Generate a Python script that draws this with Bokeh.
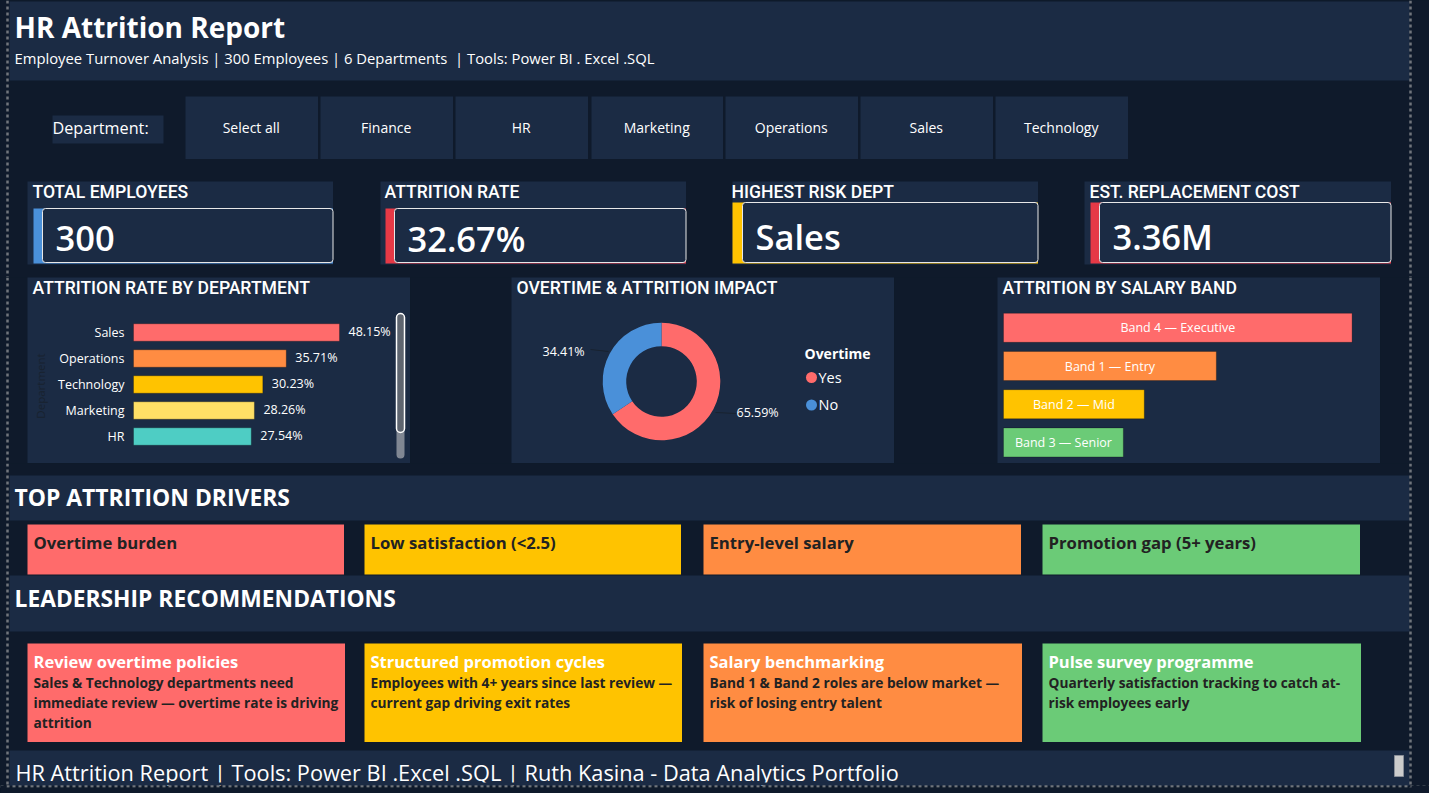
import math
from bokeh.plotting import figure
from bokeh.layouts import column, row
from bokeh.models import Range1d, BoxAnnotation, Label, ColumnDataSource, Span, FixedTicker
from bokeh.core.properties import value
from bokeh.core.validation import silence
from bokeh.core.validation.warnings import MISSING_RENDERERS
from bokeh.embed import file_html
from bokeh.resources import INLINE

silence(MISSING_RENDERERS, True)

# ---- data ----
departments = ["Sales", "Operations", "Technology", "Marketing", "HR"]
dept_rates = [48.15, 35.71, 30.23, 28.26, 27.54]
dept_colors = ["#FF6B6B", "#FF8C42", "#FFC300", "#FFE066", "#4ECDC4"]

salary_bands = ["Band 4 — Executive", "Band 1 — Entry", "Band 2 — Mid", "Band 3 — Senior"]
salary_values = [41.6, 25.4, 16.8, 14.3]
salary_colors = ["#FF6B6B", "#FF8C42", "#FFC300", "#6BCB77"]

overtime_labels = ["Yes", "No"]
overtime_values = [65.59, 34.41]
overtime_colors = ["#FF6B6B", "#4A90D9"]

slicer_items = ["Select all", "Finance", "HR", "Marketing", "Operations", "Sales", "Technology"]
kpi_titles = ["TOTAL EMPLOYEES", "ATTRITION RATE", "HIGHEST RISK DEPT", "EST. REPLACEMENT COST"]
kpi_values = ["300", "32.67%", "Sales", "3.36M"]
kpi_colors = ["#4A90D9", "#E63946", "#FFC300", "#E63946"]

drivers = ["Overtime burden", "Low satisfaction (<2.5)", "Entry-level salary", "Promotion gap (5+ years)"]
card_colors = ["#FF6B6B", "#FFC300", "#FF8C42", "#6BCB77"]
rec_titles = ["Review overtime policies", "Structured promotion cycles", "Salary benchmarking", "Pulse survey programme"]
rec_bodies = [
    ["Sales & Technology departments need", "immediate review — overtime rate is driving", "attrition"],
    ["Employees with 4+ years since last review —", "current gap driving exit rates"],
    ["Band 1 & Band 2 roles are below market —", "risk of losing entry talent"],
    ["Quarterly satisfaction tracking to catch at-", "risk employees early"],
]
report_title = "HR Attrition Report"
report_sub = "Employee Turnover Analysis | 300 Employees | 6 Departments \u00a0| Tools: Power BI . Excel .SQL"
footer_text = "HR Attrition Report | Tools: Power BI .Excel .SQL | Ruth Kasina - Data Analytics Portfolio"

# ---- style ----
BG = "#0F1A2B"
PANEL = "#1B2B44"
WHITE = "#FFFFFF"
DARK = "#222222"
DOT = "#70757C"
HEAD = "'Roboto Medium', Roboto"
BODY = "Open Sans"
VALUE = "'Open Sans SemiBold', 'Open Sans'"


def base(w, h, x_range, y_range, fill=BG):
    p = figure(width=w, height=h, x_range=x_range, y_range=y_range, output_backend="svg",
               toolbar_location=None, min_border=0, background_fill_color=fill,
               border_fill_color=fill, outline_line_color=None)
    p.grid.visible = False
    p.xaxis.visible = False
    p.yaxis.visible = False
    return p


def canvas(w, h):
    return base(w, h, Range1d(0, w), Range1d(h, 0))


def box(p, l, t, r, b, fill=PANEL, line=None, radius=0, width=1, dy=0):
    ann = BoxAnnotation(left=l, right=r, top=t - dy, bottom=b - dy,
                        left_units="canvas", right_units="canvas", top_units="canvas",
                        bottom_units="canvas", fill_color=fill, fill_alpha=1 if fill else 0,
                        line_color=line, line_alpha=1 if line else 0, line_width=width,
                        border_radius=radius, level="annotation", editable=False)
    p.add_layout(ann)


def label(p, x, y, text, size, color=WHITE, font=BODY, style="normal", align="left", dy=0, angle=0):
    p.add_layout(Label(x=x - 1, y=y - dy - 1, x_units="canvas", y_units="canvas", text=text,
                       text_font=font, text_font_size=f"{size}px", text_font_style=style,
                       text_color=color, text_align=align, text_baseline="middle", angle=angle))


def dots(p, loc, dim="height"):
    p.add_layout(Span(location=loc, dimension=dim, location_units="canvas",
                      line_color=DOT, line_width=2.5, line_dash=[3, 3]))


# ---- top block: y 0..277 ----
top = canvas(1429, 277)
box(top, 9, 1, 1409, 80)
label(top, 15, 27, report_title, 28, style="bold")
label(top, 15, 58, report_sub, 14.8)
box(top, 52, 115, 163, 143)
label(top, 53, 128, "Department:", 16.2)
slicer_edges = [(185, 317.5), (320, 452.5), (455, 587.5), (591, 722.5), (725, 857.5), (860, 992.5), (995, 1127.5)]
for (l, r), name in zip(slicer_edges, slicer_items):
    box(top, l, 96, r, 158.5)
    label(top, (l + r) / 2 + 0.5, 128, name, 14, align="center")
card_geo = [(27, 33, 42, 332.5, 208, 239), (380, 385, 394, 685.5, 208, 239),
            (732, 732, 742, 1037.5, 202, 237), (1084, 1090, 1099, 1390.5, 202, 237)]
for (pl, sl, il, pr, it, vy), title, val, col in zip(card_geo, kpi_titles, kpi_values, kpi_colors):
    box(top, pl, 181, pr, 264)
    label(top, sl, 192, title, 17.6, font=HEAD)
    box(top, sl, it, pr, 263, fill=col)
    box(top, il, it, pr, 262, fill=PANEL, line="#E8E8E8", radius=3)
    label(top, il + 14, vy, val, 34.5, font=VALUE)
dots(top, 7)
dots(top, 1410)

# ---- middle row: y 277..463 ----
MID = 186
spacer_a = canvas(27, MID)
dots(spacer_a, 7)

rows_d = list(range(len(departments)))
dept_src = ColumnDataSource(dict(pos=rows_d, rate=dept_rates, color=dept_colors,
                                 text=[f"{v:.2f}%" for v in dept_rates]))
dept = base(383, MID, Range1d(-24.78, 64.75), Range1d(5.038, -2.115), fill=PANEL)
dept.yaxis.visible = True
dept.yaxis.fixed_location = 0
dept.yaxis.ticker = FixedTicker(ticks=rows_d)
dept.yaxis.major_label_overrides = dict(zip(rows_d, departments))
dept.yaxis.axis_line_color = None
dept.yaxis.major_tick_line_color = None
dept.yaxis.minor_tick_line_color = None
dept.yaxis.major_label_text_color = WHITE
dept.yaxis.major_label_text_font = BODY
dept.yaxis.major_label_text_font_size = "12.5px"
dept.yaxis.major_label_standoff = 3
dept.hbar(y="pos", left=0, right="rate", height=0.67, fill_color="color",
          line_color="#000000", line_alpha=0.25, source=dept_src)
dept.text(x="rate", y="pos", text="text", x_offset=9, y_offset=-1, text_color=WHITE, text_font=value(BODY),
          text_font_size="12.5px", text_baseline="middle", source=dept_src)
label(dept, 6, 11, "ATTRITION RATE BY DEPARTMENT", 17.6, font=HEAD)
label(dept, 13.5, 109.5, "Department", 11.5, color="#18222F", align="center", angle=math.pi / 2)
box(dept, 369, 150, 377, 181, fill="#808793", radius=4)
box(dept, 369, 36, 377, 155, fill="#5E6570", line=WHITE, radius=4, width=1.5)

spacer_b = canvas(101, MID)

donut = base(383, MID, Range1d(-150, 233), Range1d(-82, 104), fill=PANEL)
total = sum(overtime_values)
angle = math.pi / 2
starts, ends = [], []
for v in overtime_values:
    starts.append(angle)
    angle -= 2 * math.pi * v / total
    ends.append(angle)
donut.annular_wedge(x=0, y=0, inner_radius=35.3, outer_radius=58.8, start_angle=starts, end_angle=ends,
                    direction="clock", fill_color=overtime_colors, line_color=None)
donut.segment(x0=[54, -53], y0=[-31, 30], x1=[75, -71], y1=[-32, 32], line_color="#18222F", line_width=1)
label(donut, 6, 11, "OVERTIME & ATTRITION IMPACT", 17.6, font=HEAD)
label(donut, 226, 136, f"{overtime_values[0]:.2f}%", 12.5)
label(donut, 32, 75, f"{overtime_values[1]:.2f}%", 12.5)
label(donut, 294, 77, "Overtime", 14, style="bold")
for i, (name, col) in enumerate(zip(overtime_labels, overtime_colors)):
    donut.circle(x=[150], y=[4 - 27.5 * i], radius=5.5, fill_color=col, line_color=None)
    label(donut, 308, 101 + 27 * i, name, 14.5)

spacer_c = canvas(103, MID)

rows_b = list(range(len(salary_bands)))
band_src = ColumnDataSource(dict(pos=rows_b, band=salary_bands, val=salary_values,
                                 mid=[v / 2 for v in salary_values], color=salary_colors))
band = base(383, MID, Range1d(-0.716, 44.99), Range1d(3.552, -1.317), fill=PANEL)
band.hbar(y="pos", left=0, right="val", height=0.76, fill_color="color",
          line_color="#000000", line_alpha=0.25, source=band_src)
band.text(x="mid", y="pos", text="band", text_align="center", text_baseline="middle",
          text_color=WHITE, text_font=value(BODY), text_font_size="12.5px", source=band_src)
label(band, 6, 11, "ATTRITION BY SALARY BAND", 17.6, font=HEAD)

spacer_d = canvas(49, MID)
dots(spacer_d, 30)

mid = row(spacer_a, dept, spacer_b, donut, spacer_c, band, spacer_d, spacing=0)

# ---- bottom block: y 463..793 ----
bot = canvas(1429, 330)
d = dict(dy=463)
box(bot, 9, 475, 1409, 520, **d)
label(bot, 15, 498, "TOP ATTRITION DRIVERS", 22.9, style="bold", **d)
driver_edges = [(27, 343.5), (364, 680.5), (703, 1020.5), (1042, 1359.5)]
for (l, r), name, col in zip(driver_edges, drivers, card_colors):
    box(bot, l, 524, r, 574, fill=col, **d)
    label(bot, l + 7, 543, name, 16.7, color=DARK, style="bold", **d)
box(bot, 9, 575, 1409, 631, **d)
label(bot, 15, 599, "LEADERSHIP RECOMMENDATIONS", 22.8, style="bold", **d)
rec_edges = [(27, 344.5), (364, 681.5), (703, 1021.5), (1042, 1360.5)]
for (l, r), title, body, col in zip(rec_edges, rec_titles, rec_bodies, card_colors):
    box(bot, l, 643, r, 741.5, fill=col, **d)
    label(bot, l + 7, 662, title, 16.5, style="bold", **d)
    for i, line in enumerate(body):
        label(bot, l + 7, 683 + 20 * i, line, 13.7, color=DARK, style="bold", **d)
box(bot, 9, 750, 1409, 785, **d)
label(bot, 16, 773, footer_text, 21.75, **d)
box(bot, 9, 782, 1409, 785, **d)
box(bot, 1394, 755, 1403, 776, fill="#CCCCCC", line="#8A8F98", **d)
dots(bot, 7)
dots(bot, 1410)
dots(bot, 786 - 463, dim="width")
box(bot, 0, 787, 1429, 793, fill=BG, **d)
box(bot, 0, 785, 6, 793, fill=BG, **d)
box(bot, 1411, 785, 1429, 793, fill=BG, **d)

layout = column(top, mid, bot, spacing=0)

PAGE_STYLE = "<style>html,body{background:#0F1A2B;}</style></head>"
html = file_html(layout, INLINE, "HR Attrition Report").replace("</head>", PAGE_STYLE, 1)
open("out.html", "w").write(html)
